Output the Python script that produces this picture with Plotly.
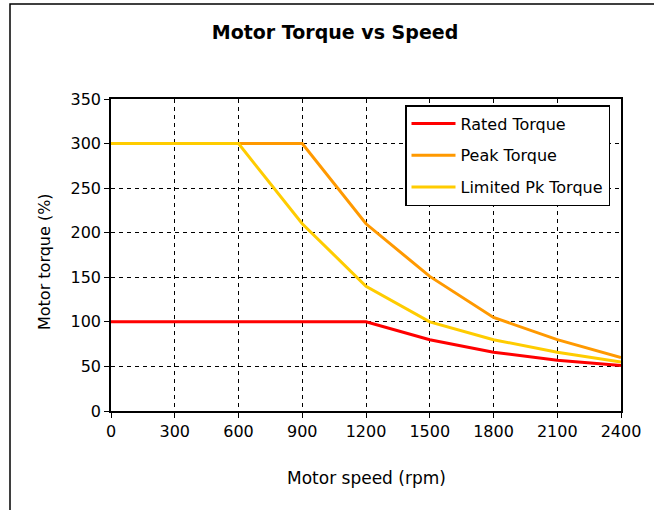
import plotly.graph_objects as go

speed = [0, 300, 600, 900, 1200, 1500, 1800, 2100, 2400]
rated = [100, 100, 100, 100, 100, 80, 66, 57, 51]
peak = [300, 300, 300, 300, 210, 151, 105, 80, 60]
limited = [300, 300, 300, 210, 140, 100, 80, 66, 55]
names = ["Rated Torque", "Peak Torque", "Limited Pk Torque"]
colors = ["#FF0000", "#FF9900", "#FFCC00"]
x_ticks = [0, 300, 600, 900, 1200, 1500, 1800, 2100, 2400]
y_ticks = [0, 50, 100, 150, 200, 250, 300, 350]

FONT = "DejaVu Sans, Verdana, sans-serif"

fig = go.Figure()
for i, (name, ys, c) in enumerate(zip(names, [rated, peak, limited], colors)):
    fig.add_trace(go.Scatter(x=speed, y=ys, mode="lines", name=name,
                             legendgroup=f"g{i}",
                             line=dict(color=c, width=3)))

axis_common = dict(showline=True, linecolor="black", linewidth=1.5, mirror=True,
                   ticks="outside", ticklen=5, tickcolor="black", tickwidth=1,
                   showgrid=True, gridcolor="black", gridwidth=1, griddash="4px,4px",
                   zeroline=False, tickfont=dict(family=FONT, size=16, color="black"))

fig.update_xaxes(range=[0, 2400], tickvals=x_ticks, **axis_common)
fig.update_yaxes(range=[0, 350], tickvals=y_ticks, **axis_common)

fig.update_layout(
    width=654, height=510,
    margin=dict(l=111, r=33, t=99, b=99),
    paper_bgcolor="white", plot_bgcolor="white",
    font=dict(family=FONT, size=16, color="black"),
    title=dict(text="<b>Motor Torque vs Speed</b>", x=335 / 654, xanchor="center",
               y=1 - 32 / 510, yanchor="middle", yref="container",
               font=dict(family=FONT, size=19, color="black")),
    legend=dict(x=(405 - 111) / 510, y=(411 - 105) / 312, xanchor="left", yanchor="top",
                bordercolor="black", borderwidth=1.5, bgcolor="white",
                font=dict(family=FONT, size=16, color="black"),
                tracegroupgap=8, itemwidth=44),
    showlegend=True,
    shapes=[dict(type="rect", xref="paper", yref="paper",
                 x0=(10 - 111) / 510, x1=1.3, y0=-0.5, y1=(411 - 4) / 312,
                 line=dict(color="black", width=1.5), fillcolor="rgba(0,0,0,0)",
                 layer="below")],
    annotations=[
        dict(text="Motor speed (rpm)", xref="paper", yref="paper",
             x=(366 - 111) / 510, y=(411 - 478) / 312, xanchor="center", yanchor="middle",
             showarrow=False, font=dict(family=FONT, size=17, color="black")),
        dict(text="Motor torque (%)", xref="paper", yref="paper",
             x=(44 - 111) / 510, y=(411 - 262) / 312, xanchor="center", yanchor="middle",
             textangle=-90, showarrow=False,
             font=dict(family=FONT, size=16, color="black")),
    ],
)

fig.write_html("out.html", config={"displayModeBar": False},
               post_script="document.body.style.margin='0';")
